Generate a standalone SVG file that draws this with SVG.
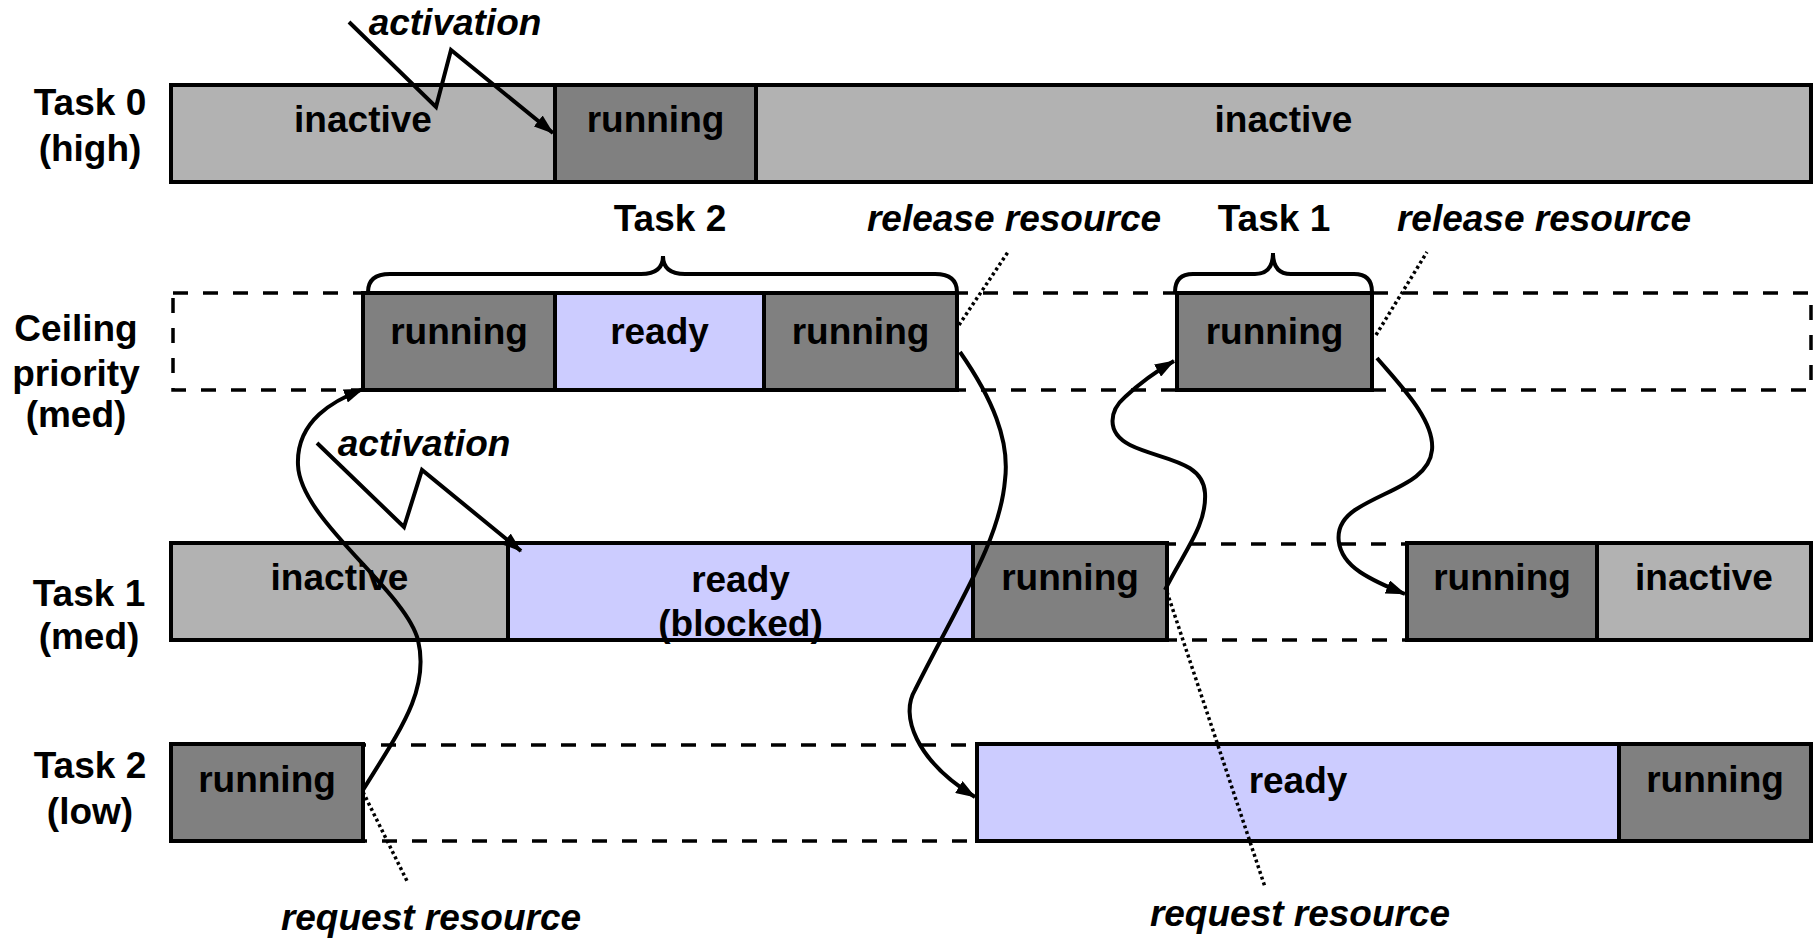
<svg xmlns="http://www.w3.org/2000/svg" width="1819" height="939" viewBox="0 0 1819 939">
<style>
.bg{fill:#ffffff}
.inactive{fill:#b2b2b2;stroke:#000;stroke-width:4}
.running{fill:#808080;stroke:#000;stroke-width:4}
.ready{fill:#ccccff;stroke:#000;stroke-width:4}
.track{fill:none;stroke:#000;stroke-width:3.5;stroke-dasharray:15 15}
.t{font-family:"Liberation Sans",Arial,sans-serif;font-weight:bold;font-size:37px;text-anchor:middle;fill:#000}
.i{font-style:italic}
.conn{fill:none;stroke:#000;stroke-width:4}
.dot{fill:none;stroke:#000;stroke-width:3.5;stroke-dasharray:3 3}
.brace{fill:none;stroke:#000;stroke-width:4}
</style>
<defs>
<marker id="ah" viewBox="0 0 20 14" refX="19" refY="7" markerWidth="20" markerHeight="14" markerUnits="userSpaceOnUse" orient="auto">
<path d="M0,0 L20,7 L0,14 z" fill="#000"/>
</marker>
</defs>
<rect class="bg" x="0" y="0" width="1819" height="939"/>

<g id="row-labels">
<g id="label-task0"><text class="t" x="90" y="115">Task 0</text><text class="t" x="90" y="161">(high)</text></g>
<g id="label-ceiling"><text class="t" x="76" y="341">Ceiling</text><text class="t" x="76" y="386">priority</text><text class="t" x="76" y="427">(med)</text></g>
<g id="label-task1"><text class="t" x="89" y="606">Task 1</text><text class="t" x="89" y="649">(med)</text></g>
<g id="label-task2"><text class="t" x="90" y="778">Task 2</text><text class="t" x="90" y="824">(low)</text></g>
</g>

<g id="tracks">
<rect class="track" x="171" y="85" width="1640" height="97"/>
<rect class="track" x="173" y="293" width="1638" height="97"/>
<rect class="track" x="171" y="544" width="1640" height="96"/>
<rect class="track" x="171" y="745" width="1640" height="96"/>
</g>

<g id="task0">
<g id="t0-inactive1"><rect class="inactive" x="171" y="85" width="384" height="97"/><text class="t" x="363" y="132">inactive</text></g>
<g id="t0-running"><rect class="running" x="555" y="85" width="201" height="97"/><text class="t" x="655.5" y="132">running</text></g>
<g id="t0-inactive2"><rect class="inactive" x="756" y="85" width="1055" height="97"/><text class="t" x="1283.5" y="132">inactive</text></g>
</g>

<g id="ceiling">
<g id="c-running1"><rect class="running" x="363" y="293" width="192" height="97"/><text class="t" x="459" y="344">running</text></g>
<g id="c-ready"><rect class="ready" x="555" y="293" width="209" height="97"/><text class="t" x="659.5" y="344">ready</text></g>
<g id="c-running2"><rect class="running" x="764" y="293" width="193" height="97"/><text class="t" x="860.5" y="344">running</text></g>
<g id="c-running3"><rect class="running" x="1177" y="293" width="195" height="97"/><text class="t" x="1274.5" y="344">running</text></g>
</g>

<g id="task1">
<g id="t1-inactive1"><rect class="inactive" x="171" y="543" width="337" height="97"/><text class="t" x="339.5" y="590">inactive</text></g>
<g id="t1-ready"><rect class="ready" x="508" y="543" width="465" height="97"/><text class="t" x="740.5" y="592">ready</text><text class="t" x="740.5" y="636">(blocked)</text></g>
<g id="t1-running1"><rect class="running" x="973" y="543" width="194" height="97"/><text class="t" x="1070" y="590">running</text></g>
<g id="t1-running2"><rect class="running" x="1407" y="543" width="190" height="97"/><text class="t" x="1502" y="590">running</text></g>
<g id="t1-inactive2"><rect class="inactive" x="1597" y="543" width="214" height="97"/><text class="t" x="1704" y="590">inactive</text></g>
</g>

<g id="task2">
<g id="t2-running1"><rect class="running" x="171" y="744" width="192" height="97"/><text class="t" x="267" y="792">running</text></g>
<g id="t2-ready"><rect class="ready" x="977" y="744" width="642" height="97"/><text class="t" x="1298" y="793">ready</text></g>
<g id="t2-running2"><rect class="running" x="1619" y="744" width="192" height="97"/><text class="t" x="1715" y="792">running</text></g>
</g>

<g id="annotations">
<text class="t i" x="455" y="35">activation</text>
<text class="t i" x="424" y="456">activation</text>
<text class="t" x="670" y="231">Task 2</text>
<text class="t i" x="1014" y="231">release resource</text>
<text class="t" x="1274" y="231">Task 1</text>
<text class="t i" x="1544" y="231">release resource</text>
<text class="t i" x="431" y="930">request resource</text>
<text class="t i" x="1300" y="926">request resource</text>
</g>

<g id="braces">
<path class="brace" d="M368,292 Q368,274 390,274 L641,274 Q663,274 663,256 Q663,274 685,274 L935,274 Q957,274 957,292"/>
<path class="brace" d="M1175,292 Q1175,274 1193,274 L1255,274 Q1273,274 1273,253 Q1273,274 1291,274 L1354,274 Q1372,274 1372,292"/>
</g>

<g id="connectors">
<path class="conn" d="M349,22 L436,107 L451,50 L553,133" marker-end="url(#ah)"/>
<path class="conn" d="M317,443 L404,527 L422,470 L521,551" marker-end="url(#ah)"/>
<path class="conn" d="M363,790 C400,730 430,690 418,640 C405,590 300,520 298,465 C296,420 335,400 363,389" marker-end="url(#ah)"/>
<path class="conn" d="M960,352 C992,398 1010,440 1005,480 C1000,540 960,600 915,690 C900,715 915,760 975,797" marker-end="url(#ah)"/>
<path class="conn" d="M1165,590 C1185,550 1207,525 1205,493 C1203,460 1160,460 1130,445 C1105,432 1110,410 1125,397 C1140,383 1155,372 1174,361" marker-end="url(#ah)"/>
<path class="conn" d="M1377,358 C1400,385 1435,420 1432,450 C1429,482 1385,490 1355,510 C1330,527 1335,555 1360,572 C1375,582 1390,588 1405,594" marker-end="url(#ah)"/>
<line class="dot" x1="363" y1="792" x2="408" y2="883"/>
<line class="dot" x1="1167" y1="592" x2="1265" y2="887"/>
<line class="dot" x1="959" y1="325" x2="1008" y2="252"/>
<line class="dot" x1="1376" y1="335" x2="1427" y2="252"/>
</g>
</svg>
